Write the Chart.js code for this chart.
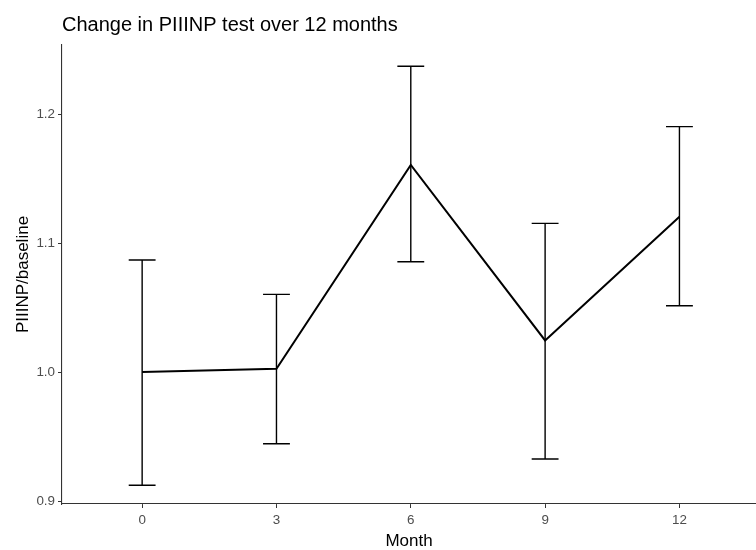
<!DOCTYPE html>
<html>
<head>
<meta charset="utf-8">
<script src="https://cdn.jsdelivr.net/npm/chart.js@4"></script>
<style>
  body { margin: 0; background: #fff; }
  canvas { display: block; }
</style>
</head>
<body>
<canvas id="chart" width="756" height="550"></canvas>
<script>
// PIIINP relative to baseline, mean with error bar limits per visit
const months = [0, 3, 6, 9, 12];
const ratioMean = [1.000, 1.0025, 1.1605, 1.0245, 1.1204];
const ratioLower = [0.9122, 0.9444, 1.0855, 0.9326, 1.0514];
const ratioUpper = [1.0868, 1.0602, 1.2370, 1.1152, 1.1902];
const xTicks = [0, 3, 6, 9, 12];
const yTicks = [0.9, 1.0, 1.1, 1.2];

const FONT = '"Liberation Sans", Arial, sans-serif';
const capHalf = 0.3; // half width of the error bar caps, in months

const errorBars = {
  id: 'errorBars',
  beforeDatasetsDraw(chart) {
    const { ctx, scales: { x, y } } = chart;
    ctx.save();
    ctx.strokeStyle = '#000';
    ctx.lineWidth = 1.4;
    months.forEach((m, i) => {
      const px = x.getPixelForValue(m);
      const left = x.getPixelForValue(m - capHalf);
      const right = x.getPixelForValue(m + capHalf);
      const top = y.getPixelForValue(ratioUpper[i]);
      const bottom = y.getPixelForValue(ratioLower[i]);
      ctx.beginPath();
      ctx.moveTo(px, top);
      ctx.lineTo(px, bottom);
      ctx.moveTo(left, top);
      ctx.lineTo(right, top);
      ctx.moveTo(left, bottom);
      ctx.lineTo(right, bottom);
      ctx.stroke();
    });
    ctx.restore();
  }
};

const axisGrid = {
  display: true,
  drawOnChartArea: false,
  drawTicks: true,
  tickLength: 4,
  color: '#333',
  lineWidth: 1
};

new Chart(document.getElementById('chart'), {
  type: 'line',
  data: {
    datasets: [{
      data: months.map((m, i) => ({ x: m, y: ratioMean[i] })),
      borderColor: '#000',
      borderWidth: 2,
      pointRadius: 0,
      tension: 0,
      fill: false
    }]
  },
  options: {
    responsive: false,
    animation: false,
    layout: { padding: 0 },
    plugins: {
      legend: { display: false },
      tooltip: { enabled: false },
      title: {
        display: true,
        text: 'Change in PIIINP test over 12 months',
        align: 'start',
        fullSize: false,
        color: '#000',
        font: { family: FONT, size: 20, weight: 'normal', lineHeight: 1.2 },
        padding: { top: 13.1, bottom: 7.9 }
      }
    },
    scales: {
      x: {
        type: 'linear',
        min: -1.79,
        max: 13.71,
        afterBuildTicks: s => { s.ticks = xTicks.map(v => ({ value: v })); },
        afterFit: s => { s.height = 46; },
        grid: axisGrid,
        border: { display: true, color: '#333', width: 1.1 },
        ticks: {
          color: '#4D4D4D',
          padding: 4,
          maxRotation: 0,
          font: { family: FONT, size: 13.4 }
        },
        title: {
          display: true,
          text: 'Month',
          color: '#000',
          font: { family: FONT, size: 17, lineHeight: 1.0 },
          padding: { top: 0, bottom: 0 }
        }
      },
      y: {
        min: 0.8977,
        max: 1.2535,
        afterBuildTicks: s => { s.ticks = yTicks.map(v => ({ value: v })); },
        afterFit: s => { s.width = 62; },
        grid: axisGrid,
        border: { display: true, color: '#333', width: 1.1 },
        ticks: {
          color: '#4D4D4D',
          padding: 3,
          font: { family: FONT, size: 13.4 },
          callback: v => v.toFixed(1)
        },
        title: {
          display: true,
          text: 'PIIINP/baseline',
          color: '#000',
          font: { family: FONT, size: 17, lineHeight: 1.0 },
          padding: { top: 15, bottom: 0 }
        }
      }
    }
  },
  plugins: [errorBars]
});
</script>
</body>
</html>
